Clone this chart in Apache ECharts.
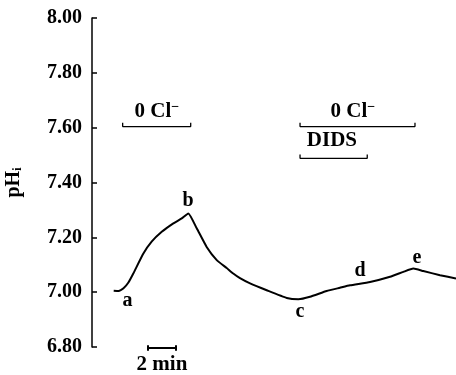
<!DOCTYPE html>
<html>
<head>
<meta charset="utf-8">
<script src="https://cdn.jsdelivr.net/npm/echarts@6/dist/echarts.min.js"></script>
<style>
  html, body { margin: 0; padding: 0; background: #fff; }
  #chart_example { width: 456px; height: 375px; }
</style>
</head>
<body>
<div id="chart_example"></div>
<script>
// pHi trace, time in minutes (x) and pH (y)
const traceTime = [1.55, 1.9, 2.25, 2.6, 2.95, 3.66, 4.26, 4.98, 5.81, 6.41, 6.88,
  7.48, 8.19, 8.91, 9.62, 10.09, 10.57, 11.29, 12.48, 13.91, 14.74, 15.57, 16.76,
  17.71, 18.43, 19.86, 21.29, 22.24, 22.95, 23.66, 24.86, 26.0];
const tracePH = [7.005, 7.004, 7.014, 7.035, 7.068, 7.140, 7.184, 7.220, 7.251, 7.269, 7.287,
  7.233, 7.165, 7.117, 7.088, 7.068, 7.051, 7.032, 7.007, 6.979, 6.974, 6.983, 7.004,
  7.016, 7.025, 7.037, 7.056, 7.074, 7.086, 7.077, 7.062, 7.050];

// y axis ticks
const yTicks = [6.8, 7.0, 7.2, 7.4, 7.6, 7.8, 8.0];

// letter markers on the trace
const letterNames = ['a', 'b', 'c', 'd', 'e'];
const letterTime = [2.54, 6.86, 14.86, 19.14, 23.21];
const letterPH = [6.967, 7.332, 6.928, 7.077, 7.124];

// treatment bars: [start, end, level]
const clBar1 = [2.19, 7.05, 7.604];
const clBar2 = [14.86, 23.07, 7.604];
const didsBar = [14.86, 19.66, 7.488];
const barNames = ['0 Cl{sup|−}', '0 Cl{sup|−}', 'DIDS'];
const barTextTime = [4.64, 18.64, 17.14];
const barTextPH = [7.657, 7.657, 7.552];

// 2 min scale bar
const scaleBar = [4, 6, 6.796];

const serif = 'Liberation Serif';
const cap = 0.014; // height of bracket ends in pH units

function bracket(b) {
    return [[b[0], b[2] + cap], [b[0], b[2]], [b[1], b[2]], [b[1], b[2] + cap]];
}

let myChart = echarts.init(document.getElementById('chart_example'));

let textStyle = {
    fontFamily: serif,
    fontSize: 21,
    fontWeight: 'bold',
    color: '#000',
    opacity: 1,
    rich: {
        sup: { fontFamily: serif, fontSize: 14, fontWeight: 'bold', color: '#000', verticalAlign: 'top', padding: [0, 0, 9, 0] }
    }
};

let option = {
    animation: false,
    backgroundColor: '#fff',
    grid: { left: 92, right: 0, top: 18, bottom: 28, outerBoundsMode: 'none', containLabel: false },
    xAxis: {
        type: 'value',
        min: 0,
        max: 26,
        show: false
    },
    yAxis: {
        type: 'value',
        min: yTicks[0],
        max: yTicks[yTicks.length - 1],
        interval: 0.2,
        name: 'pH{sub|i}',
        nameLocation: 'middle',
        nameRotate: 90,
        nameGap: 68,
        nameTextStyle: {
            fontFamily: serif, fontSize: 20, fontWeight: 'bold', color: '#000',
            rich: {
                sub: { fontFamily: serif, fontSize: 12, fontWeight: 'bold', color: '#000', verticalAlign: 'bottom', padding: [8, 0, 0, 0] }
            }
        },
        axisLine: { show: true, lineStyle: { color: '#000', width: 1.5 } },
        axisTick: { show: true, inside: true, length: 5, lineStyle: { color: '#000', width: 1.5 } },
        splitLine: { show: false },
        axisLabel: {
            margin: 10,
            fontFamily: serif, fontSize: 20, fontWeight: 'bold', color: '#000',
            formatter: v => v.toFixed(2)
        }
    },
    series: [
        {
            name: 'pHi',
            type: 'line',
            data: traceTime.map((t, i) => [t, tracePH[i]]),
            showSymbol: false,
            smooth: 0.15,
            lineStyle: { color: '#000', width: 2 }
        },
        // brackets for the solution changes
        ...[clBar1, clBar2, didsBar].map(b => ({
            type: 'line',
            data: bracket(b),
            showSymbol: false,
            lineStyle: { color: '#000', width: 1.3 }
        })),
        // scale bar
        {
            type: 'line',
            data: [[scaleBar[0], scaleBar[2] + 0.01], [scaleBar[0], scaleBar[2] - 0.01], [scaleBar[0], scaleBar[2]],
                   [scaleBar[1], scaleBar[2]], [scaleBar[1], scaleBar[2] + 0.01], [scaleBar[1], scaleBar[2] - 0.01]],
            showSymbol: false,
            clip: false,
            lineStyle: { color: '#000', width: 2 }
        },
        // letters on trace
        {
            type: 'scatter',
            symbolSize: 0,
            clip: false,
            itemStyle: { opacity: 1 },
            data: letterNames.map((n, i) => [letterTime[i], letterPH[i], n]),
            label: Object.assign({ show: true, position: 'inside', formatter: p => p.data[2] }, textStyle, { fontSize: 20 })
        },
        // bar texts and scale text
        {
            type: 'scatter',
            symbolSize: 0,
            clip: false,
            itemStyle: { opacity: 1 },
            data: barNames.map((n, i) => [barTextTime[i], barTextPH[i], n]).concat([[(scaleBar[0] + scaleBar[1]) / 2, 6.737, '2 min']]),
            label: Object.assign({ show: true, position: 'inside', formatter: p => p.data[2] }, textStyle)
        }
    ]
};
myChart.setOption(option);
window.addEventListener('resize', function () { myChart.resize() });
</script>
</body>
</html>
